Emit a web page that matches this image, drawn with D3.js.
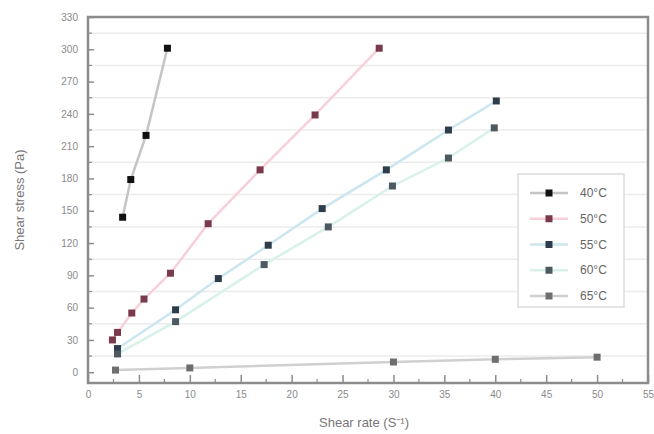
<!DOCTYPE html>
<html><head><meta charset="utf-8">
<script src="https://cdn.jsdelivr.net/npm/d3@7"></script>
<style>body{margin:0;background:#fff}svg{display:block}</style>
</head><body>
<svg id="c" width="654" height="434"></svg>
<script>
const seriesNames = ["40°C","50°C","55°C","60°C","65°C"];
const s40x = [3.4, 4.2, 5.7, 7.8];
const s40y = [144, 179, 220, 301];
const s50x = [2.4, 2.9, 4.3, 5.5, 8.1, 11.8, 16.9, 22.3, 28.6];
const s50y = [30, 37, 55, 68, 92, 138, 188, 239, 301];
const s55x = [2.9, 8.6, 12.8, 17.7, 23.0, 29.3, 35.4, 40.1];
const s55y = [22, 58, 87, 118, 152, 188, 225, 252];
const s60x = [2.9, 8.6, 17.3, 23.6, 29.9, 35.4, 39.9];
const s60y = [17, 47, 100, 135, 173, 199, 227];
const s65x = [2.7, 10.0, 30.0, 40.0, 50.0];
const s65y = [2, 4, 9.5, 12, 14];
const xTicks = [0,5,10,15,20,25,30,35,40,45,50,55];
const yTicks = [0,30,60,90,120,150,180,210,240,270,300,330];

const markerColors = ["#111111","#7a3a4c","#2e3d4c","#4d5861","#6e6e6e"];
const lineColors = ["#c4c4c4","#f8d0da","#cce6f0","#d8f1ea","#d0d0d0"];
const xs = [s40x,s50x,s55x,s60x,s65x], ys=[s40y,s50y,s55y,s60y,s65y];
const series = seriesNames.map((n,i)=>({name:n, pts: xs[i].map((x,j)=>({x, y: ys[i][j]}))}));

const svg = d3.select("#c");
const L=88,R=648,T=17,B=383;
const x = d3.scaleLinear().domain([0,55]).range([L,R]);
const y = d3.scaleLinear().domain([-10,330]).range([B,T]);
const font = "Liberation Sans, Arial, sans-serif";

// gridlines
const gridVals = d3.range(15, 330, 30);
svg.append("g").selectAll("line").data(gridVals).join("line")
  .attr("x1",L).attr("x2",R).attr("y1",d=>y(d)).attr("y2",d=>y(d))
  .attr("stroke","#ececec").attr("stroke-width",1.5);

// lines
const line = d3.line().x(d=>x(d.x)).y(d=>y(d.y));
svg.append("g").selectAll("path").data(series).join("path")
  .attr("d",d=>line(d.pts)).attr("fill","none")
  .attr("stroke",(d,i)=>lineColors[i]).attr("stroke-width",2.5);

// markers
series.forEach((s,i)=>{
  svg.append("g").selectAll("rect").data(s.pts).join("rect")
    .attr("x",d=>x(d.x)-3.5).attr("y",d=>y(d.y)-3.5)
    .attr("width",7).attr("height",7).attr("fill",markerColors[i]);
});

// axes
const axColor="#8c8c8c";
const xAxis = d3.axisBottom(x).tickValues(xTicks).tickSize(-8).tickPadding(8).tickFormat(d3.format("d"));
const gx = svg.append("g").attr("transform",`translate(0,${B})`).call(xAxis);
const yAxis = d3.axisLeft(y).tickValues(yTicks).tickSize(-6).tickPadding(10).tickFormat(d3.format("d"));
const gy = svg.append("g").attr("transform",`translate(${L},0)`).call(yAxis);
[gx,gy].forEach(g=>{
  g.select(".domain").remove();
  g.selectAll("line").attr("stroke",axColor).attr("stroke-width",1.5);
  g.selectAll("text").attr("fill","#8a8a8a").style("font-family",font).style("font-size","10px");
});
// minor ticks
svg.append("g").selectAll("line").data(d3.range(2.5,55,5)).join("line")
  .attr("x1",d=>x(d)).attr("x2",d=>x(d)).attr("y1",B).attr("y2",B-4)
  .attr("stroke",axColor).attr("stroke-width",1.2);
svg.append("g").selectAll("line").data(d3.range(15,330,30)).join("line")
  .attr("x1",L).attr("x2",L+4).attr("y1",d=>y(d)).attr("y2",d=>y(d))
  .attr("stroke",axColor).attr("stroke-width",1.2);

// frame
svg.append("rect").attr("x",L).attr("y",T).attr("width",R-L).attr("height",B-T)
  .attr("fill","none").attr("stroke",axColor).attr("stroke-width",2.5);

// axis titles
svg.append("text").attr("x",(L+R)/2-4).attr("y",427).attr("text-anchor","middle")
  .attr("fill","#777").style("font-family",font).style("font-size","13px")
  .text("Shear rate (S⁻¹)");
svg.append("text").attr("transform",`translate(24,${(T+B)/2}) rotate(-90)`).attr("text-anchor","middle")
  .attr("fill","#777").style("font-family",font).style("font-size","13px")
  .text("Shear stress (Pa)");

// legend
const lg = svg.append("g");
lg.append("rect").attr("x",518).attr("y",174).attr("width",106).attr("height",133)
  .attr("fill","#fff").attr("stroke","#dcdcdc").attr("stroke-width",1.5);
const ly = d3.scalePoint().domain(seriesNames).range([193,296]);
seriesNames.forEach((n,i)=>{
  lg.append("line").attr("x1",530).attr("x2",568).attr("y1",ly(n)).attr("y2",ly(n))
    .attr("stroke",lineColors[i]).attr("stroke-width",2.5);
  lg.append("rect").attr("x",549-3.5).attr("y",ly(n)-3.5).attr("width",7).attr("height",7)
    .attr("fill",markerColors[i]);
  lg.append("text").attr("x",580).attr("y",ly(n)+4).attr("fill","#666")
    .style("font-family",font).style("font-size","12px").text(n);
});
</script>
</body></html>
